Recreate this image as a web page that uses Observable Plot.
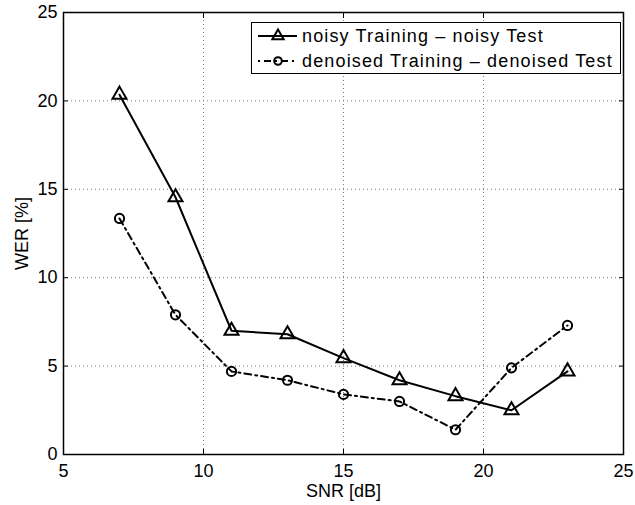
<!DOCTYPE html>
<html>
<head>
<meta charset="utf-8">
<script src="https://cdn.jsdelivr.net/npm/d3@7"></script>
<script src="https://cdn.jsdelivr.net/npm/@observablehq/plot@0.6"></script>
<style>
  html, body { margin: 0; padding: 0; background: white; }
  #wrap { position: relative; width: 635px; height: 505px; font-family: "Liberation Sans", Arial, Helvetica, sans-serif; }
  #legend { position: absolute; left: 251px; top: 22px; width: 368px; height: 50px; border: 1.3px solid black; background: white; font-size: 18px; }
  .row { position: absolute; left: 0; height: 24px; display: flex; align-items: center; }
  .row svg { display: block; }
  .row span { margin-left: 3px; white-space: nowrap; letter-spacing: 1.15px; }
</style>
</head>
<body>
<div id="wrap"></div>
<script>
const snr = [7, 9, 11, 13, 15, 17, 19, 21, 23];
const werNoisy = [20.35, 14.55, 7.0, 6.8, 5.45, 4.2, 3.3, 2.5, 4.7];
const werDenoised = [13.35, 7.9, 4.7, 4.2, 3.4, 3.0, 1.4, 4.9, 7.3];
const xTicks = [5, 10, 15, 20, 25];
const yTicks = [0, 5, 10, 15, 20, 25];
const seriesNames = ["noisy Training \u2013 noisy Test", "denoised Training \u2013 denoised Test"];

const noisy = snr.map((x, i) => ({x, y: werNoisy[i]}));
const denoised = snr.map((x, i) => ({x, y: werDenoised[i]}));
const gridX = xTicks.slice(1, -1);
const gridY = yTicks.slice(1, -1);
const dashDot = "7,4,2,4";

const chart = Plot.plot({
  width: 635,
  height: 505,
  marginLeft: 63,
  marginRight: 12,
  marginTop: 12,
  marginBottom: 51,
  style: {fontFamily: '"Liberation Sans", Arial, Helvetica, sans-serif', fontSize: "18px", background: "white", color: "black", overflow: "visible"},
  x: {domain: [5, 25]},
  y: {domain: [0, 25]},
  marks: [
    Plot.gridX(gridX, {stroke: "#777", strokeOpacity: 1, strokeDasharray: "1,3"}),
    Plot.gridY(gridY, {stroke: "#777", strokeOpacity: 1, strokeDasharray: "1,3"}),
    Plot.axisX(xTicks, {anchor: "bottom", tickSize: 0, tickPadding: 10, fontSize: 18, label: "SNR [dB]", labelAnchor: "center", labelArrow: "none", labelOffset: 42}),
    Plot.axisY(yTicks, {anchor: "left", tickSize: 0, tickPadding: 6, fontSize: 18, label: "WER [%]", labelAnchor: "center", labelArrow: "none", labelOffset: 48}),
    Plot.axisX(xTicks, {anchor: "bottom", tickSize: 5, dy: -5, text: null, label: null, strokeWidth: 1}),
    Plot.axisX(xTicks, {anchor: "top", tickSize: 5, dy: 5, text: null, label: null, strokeWidth: 1}),
    Plot.axisY(yTicks, {anchor: "left", tickSize: 5, dx: 5, text: null, label: null, strokeWidth: 1}),
    Plot.axisY(yTicks, {anchor: "right", tickSize: 5, dx: -5, text: null, label: null, strokeWidth: 1}),
    Plot.frame({stroke: "black", strokeWidth: 1.5}),
    Plot.line(noisy, {x: "x", y: "y", stroke: "black", strokeWidth: 2}),
    Plot.dot(noisy, {x: "x", y: "y", symbol: "triangle", r: 5.2, stroke: "black", strokeWidth: 2, fill: "none"}),
    Plot.line(denoised, {x: "x", y: "y", stroke: "black", strokeWidth: 2, strokeDasharray: dashDot}),
    Plot.dot(denoised, {x: "x", y: "y", symbol: "circle", r: 4.6, stroke: "black", strokeWidth: 2, fill: "none"})
  ]
});

const wrap = document.getElementById("wrap");
wrap.appendChild(chart);

// Legend
const legend = document.createElement("div");
legend.id = "legend";
const sym = [
  `<line x1="3" x2="42" y1="12" y2="12" stroke="black" stroke-width="2"/><path d="${d3.symbol(d3.symbolTriangle, 4.2*4.2*Math.PI)()}" transform="translate(23,12)" fill="none" stroke="black" stroke-width="2"/>`,
  `<line x1="3" x2="42" y1="12" y2="12" stroke="black" stroke-width="2" stroke-dasharray="2,4,7,4"/><circle cx="23" cy="12" r="3.8" fill="none" stroke="black" stroke-width="2"/>`
];
seriesNames.forEach((name, i) => {
  const row = document.createElement("div");
  row.className = "row";
  row.style.top = (1 + i * 25) + "px";
  row.style.left = "3px";
  row.innerHTML = `<svg width="44" height="24">${sym[i]}</svg><span>${name}</span>`;
  legend.appendChild(row);
});
wrap.appendChild(legend);
</script>
</body>
</html>
